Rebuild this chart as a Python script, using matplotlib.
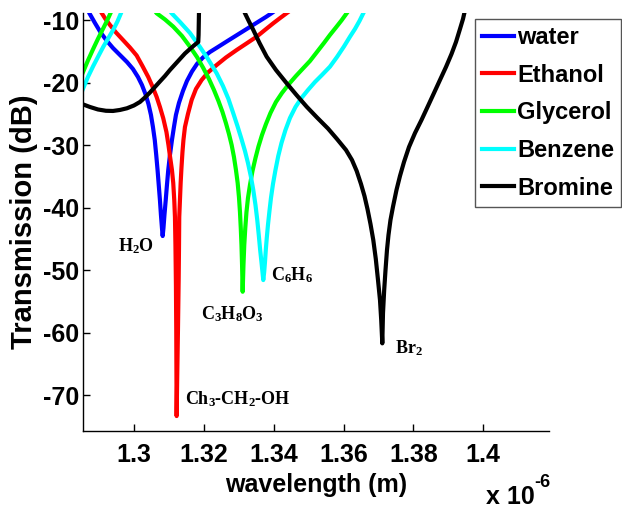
import numpy as np
import matplotlib
matplotlib.use("Agg")
import matplotlib.pyplot as plt

nan = np.nan

# wavelength in um (axis carries the x 10^-6 factor), transmission in dB
wl_water = [1.28697, 1.28720, 1.28883, 1.29055, 1.29227, 1.29399, 1.29599, 1.29800, 1.29971,
            1.30115, 1.30229, 1.30329, 1.30415, 1.30487, 1.30544, 1.30596, 1.30638, 1.30676,
            1.30710, 1.30744, 1.30773, 1.30802, 1.30822,
            1.30845, 1.30873, 1.30910, 1.30945, 1.30982, 1.31031, 1.31088, 1.31145, 1.31202,
            1.31288, 1.31403, 1.31517, 1.31661, 1.31804, 1.31975, 1.32176, 1.32405, 1.32634,
            1.32863, 1.33092, 1.33321, 1.33550, 1.33779, 1.33951, 1.34008]
T_water = [-8.35, -8.83, -10.43, -12.03, -13.31, -14.44, -15.56, -16.68, -17.80,
           -19.08, -20.36, -21.80, -23.40, -25.16, -27.09, -29.17, -31.57, -33.97,
           -36.37, -38.78, -41.18, -43.26, -44.54,
           -43.26, -41.18, -38.78, -36.37, -33.97, -31.57, -29.17, -27.09, -25.16,
           -23.24, -21.32, -19.72, -18.20, -17.00, -15.96, -15.08, -14.28, -13.47,
           -12.67, -11.87, -11.07, -10.27, -9.47, -8.83, -8.59]

wl_ethanol = [1.29027, 1.29075, 1.29184, 1.29313, 1.29485, 1.29685, 1.29885, 1.30077, 1.30243,
              1.30409, 1.30530, 1.30650, 1.30744, 1.30839, 1.30930, 1.30988, 1.31039, 1.31088,
              1.31125, 1.31154, 1.31174, 1.31188, 1.31202, 1.31211, 1.31217, 1.31222,
              1.31237, 1.31260, 1.31280, 1.31289, 1.31297, 1.31337, 1.31360, 1.31389, 1.31417,
              1.31460, 1.31546, 1.31652, 1.31775, 1.31938, 1.32119, 1.32368, 1.32634, 1.32940,
              1.33221, 1.33513, 1.33750, 1.33988, 1.34180, 1.34380, 1.34438]
T_ethanol = [-8.35, -8.83, -9.79, -10.75, -11.95, -13.15, -14.36, -15.64, -17.32,
             -19.08, -20.60, -22.28, -23.88, -25.69, -27.89, -29.97, -32.05, -33.97,
             -36.05, -38.78, -41.50, -45.98, -52.39, -59.59, -67.60, -73.36,
             -67.60, -59.59, -51.59, -46.78, -41.50, -36.05, -33.65, -31.09, -29.17,
             -27.09, -25.00, -22.76, -21.00, -19.56, -18.36, -17.16, -15.96, -14.76,
             -13.72, -12.63, -11.55, -10.48, -9.66, -8.83, -8.59]

wl_glycerol = [1.28483, 1.28548, 1.28683, 1.28826, 1.28969, 1.29112, 1.29227, 1.29327, 1.29356,
               nan,
               1.30601, 1.30650, 1.30888, 1.31125, 1.31374, 1.31603, 1.31804, 1.31984, 1.32147,
               1.32290, 1.32419, 1.32534, 1.32634, 1.32720, 1.32797, 1.32863, 1.32920, 1.32969,
               1.33006, 1.33035, 1.33058, 1.33078, 1.33095, 1.33112,
               1.33135, 1.33158, 1.33187, 1.33221, 1.33264, 1.33321, 1.33393, 1.33479, 1.33564,
               1.33665, 1.33779, 1.33908, 1.34065, 1.34237, 1.34438, 1.34638, 1.34838, 1.35039,
               1.35239, 1.35440, 1.35611, 1.35783, 1.35941, 1.36090, 1.36127]
T_glycerol = [-19.08, -18.23, -16.44, -14.68, -12.99, -11.39, -10.11, -8.88, -8.51,
              nan,
              -8.51, -8.88, -9.87, -11.02, -12.51, -14.23, -15.88, -17.64, -19.40,
              -21.16, -22.92, -24.68, -26.49, -28.21, -29.97, -31.89, -33.97, -36.05,
              -38.30, -40.70, -43.26, -45.98, -49.18, -53.46,
              -49.18, -45.98, -43.26, -40.70, -38.46, -36.37, -34.13, -32.05, -30.21,
              -28.37, -26.61, -24.84, -23.08, -21.64, -20.20, -18.92, -17.72, -16.52,
              -15.08, -13.63, -12.35, -11.15, -10.03, -8.88, -8.59]

wl_benzene = [1.28483, 1.28548, 1.28683, 1.28835, 1.28984, 1.29127, 1.29270, 1.29413, 1.29528,
              1.29628, 1.29656,
              nan,
              1.31031, 1.31079, 1.31317, 1.31603, 1.31890, 1.32119, 1.32368, 1.32548, 1.32705,
              1.32843, 1.32963, 1.33078, 1.33178, 1.33264, 1.33344, 1.33416, 1.33479, 1.33530,
              1.33573, 1.33613, 1.33650, 1.33679, 1.33702,
              1.33728, 1.33751, 1.33774, 1.33802, 1.33836, 1.33879, 1.33922, 1.33980, 1.34051,
              1.34131, 1.34223, 1.34337, 1.34466, 1.34624, 1.34796, 1.34982, 1.35182, 1.35382,
              1.35611, 1.35812, 1.36012, 1.36184, 1.36327, 1.36456, 1.36565, 1.36599]
T_benzene = [-21.80, -20.89, -19.08, -17.32, -15.72, -14.20, -12.83, -11.47, -10.19,
             -8.88, -8.51,
             nan,
             -8.51, -8.88, -10.27, -12.03, -14.28, -16.20, -18.49, -20.52, -22.60,
             -24.89, -26.93, -29.01, -30.93, -32.85, -34.93, -37.17, -39.58, -41.98,
             -44.38, -46.78, -48.70, -50.31, -51.59,
             -50.31, -48.70, -46.78, -44.86, -42.78, -40.54, -38.46, -36.21, -33.97,
             -31.73, -29.65, -27.57, -25.64, -23.88, -22.44, -21.16, -19.88, -18.76,
             -17.43, -15.88, -14.20, -12.63, -11.39, -10.11, -8.88, -8.51]

wl_bromine = [1.28454, 1.28548, 1.28740, 1.28969, 1.29198, 1.29399, 1.29599, 1.29800, 1.30000,
              1.30172, 1.30315, 1.30458, 1.30601, 1.30744, 1.30888, 1.31031, 1.31174, 1.31317,
              1.31460, 1.31603, 1.31718, 1.31841, 1.31850, 1.31855, 1.31861, 1.31864,
              nan,
              1.33149, 1.33178, 1.33292, 1.33416, 1.33593, 1.33799, 1.34065, 1.34372, 1.34652,
              1.34944, 1.35239, 1.35554, 1.35812, 1.36070, 1.36241, 1.36376, 1.36499, 1.36599,
              1.36685, 1.36771, 1.36851, 1.36923, 1.36986, 1.37043, 1.37078, 1.37109,
              1.37129, 1.37163, 1.37201, 1.37243, 1.37286, 1.37343, 1.37415, 1.37515, 1.37615,
              1.37730, 1.37873, 1.38045, 1.38231, 1.38417, 1.38589, 1.38760, 1.38932, 1.39090,
              1.39219, 1.39333, 1.39419, 1.39456, 1.39476]
T_bromine = [-23.40, -23.48, -23.88, -24.28, -24.49, -24.52, -24.36, -24.09, -23.64,
             -23.08, -22.36, -21.56, -20.68, -19.80, -18.92, -17.96, -17.08, -16.20,
             -15.32, -14.60, -14.04, -13.47, -12.35, -10.75, -8.88, -8.51,
             nan,
             -8.51, -8.88, -10.19, -11.55, -13.63, -15.83, -17.96, -20.09, -21.96,
             -23.84, -25.56, -27.33, -29.01, -30.77, -32.37, -34.13, -36.21, -38.14,
             -40.22, -42.62, -45.18, -48.22, -51.59, -54.79, -57.99, -61.72,
             -56.87, -53.19, -49.98, -46.78, -44.38, -41.98, -39.85, -37.17, -34.93,
             -32.69, -30.29, -28.05, -25.96, -23.72, -21.64, -19.56, -17.48, -15.40,
             -13.47, -11.39, -9.79, -8.88, -8.51]

series = [
    ("water", wl_water, T_water, "#0000ff"),
    ("Ethanol", wl_ethanol, T_ethanol, "#ff0000"),
    ("Glycerol", wl_glycerol, T_glycerol, "#00ff00"),
    ("Benzene", wl_benzene, T_benzene, "#00ffff"),
    ("Bromine", wl_bromine, T_bromine, "#000000"),
]

# dip labels: text, x, y
dip_labels = [
    ("H$_2$O", 1.30057, -46.1),
    ("C$_3$H$_8$O$_3$", 1.32829, -57.0),
    ("C$_6$H$_6$", 1.34514, -50.8),
    ("Ch$_3$-CH$_2$-OH", 1.32971, -70.6),
    ("Br$_2$", 1.37886, -62.5),
]

xticks = [1.30, 1.32, 1.34, 1.36, 1.38, 1.40]
xtick_labels = ["1.3", "1.32", "1.34", "1.36", "1.38", "1.4"]
yticks = [-70, -60, -50, -40, -30, -20, -10]

plt.rcParams['mathtext.default'] = 'regular'
plt.rcParams['axes.unicode_minus'] = False
sans = 'Liberation Sans'
serif = 'Liberation Serif'

fig = plt.figure(figsize=(6.22, 5.08), dpi=100)
ax = fig.add_axes([0.1339, 0.1522, 0.7487, 0.8217])

for name, wl, T, col in series:
    ax.plot(wl, T, color=col, lw=3, label=name)

for txt, x, y in dip_labels:
    ax.text(x, y, txt, ha='center', va='center', family=serif,
            fontweight='bold', fontsize=13)

ax.set_xlim(1.2855, 1.4188)
ax.set_ylim(-75.7, -8.88)
ax.set_xticks(xticks)
ax.set_xticklabels(xtick_labels)
ax.set_yticks(yticks)

for s in ['top', 'right']:
    ax.spines[s].set_visible(False)
for s in ['left', 'bottom']:
    ax.spines[s].set_linewidth(1.0)

ax.tick_params(direction='in', length=5, width=1, top=False, right=False)
ax.tick_params(axis='x', pad=9)
ax.tick_params(axis='y', pad=3)
for lab in ax.get_xticklabels() + ax.get_yticklabels():
    lab.set_family(sans)
    lab.set_fontweight('bold')
    lab.set_fontsize(18)

ax.set_xlabel('wavelength (m)', family=sans, fontweight='bold', fontsize=18, labelpad=4)
ax.set_ylabel('Transmission (dB)', family=sans, fontweight='bold', fontsize=21)
ax.yaxis.set_label_coords(-0.098, 0.5)

# exponent of the wavelength axis
fig.text(486 / 622, 1 - 504 / 508, 'x 10', family=sans, fontweight='bold',
         fontsize=18, ha='left', va='baseline')
fig.text(534 / 622, 1 - 487 / 508, '-6', family=sans, fontweight='bold',
         fontsize=13, ha='left', va='baseline')

leg = ax.legend(loc='upper right', bbox_to_anchor=(621 / 622, 1 - 19 / 508),
                bbox_transform=fig.transFigure, borderaxespad=0, fancybox=False,
                framealpha=1, edgecolor='#555555', handlelength=1.35, handletextpad=0.12,
                labelspacing=0.62, borderpad=0.3,
                prop={'family': sans, 'weight': 'bold', 'size': 17})
leg.get_frame().set_linewidth(1.0)

fig.savefig('out.png', dpi=100)
